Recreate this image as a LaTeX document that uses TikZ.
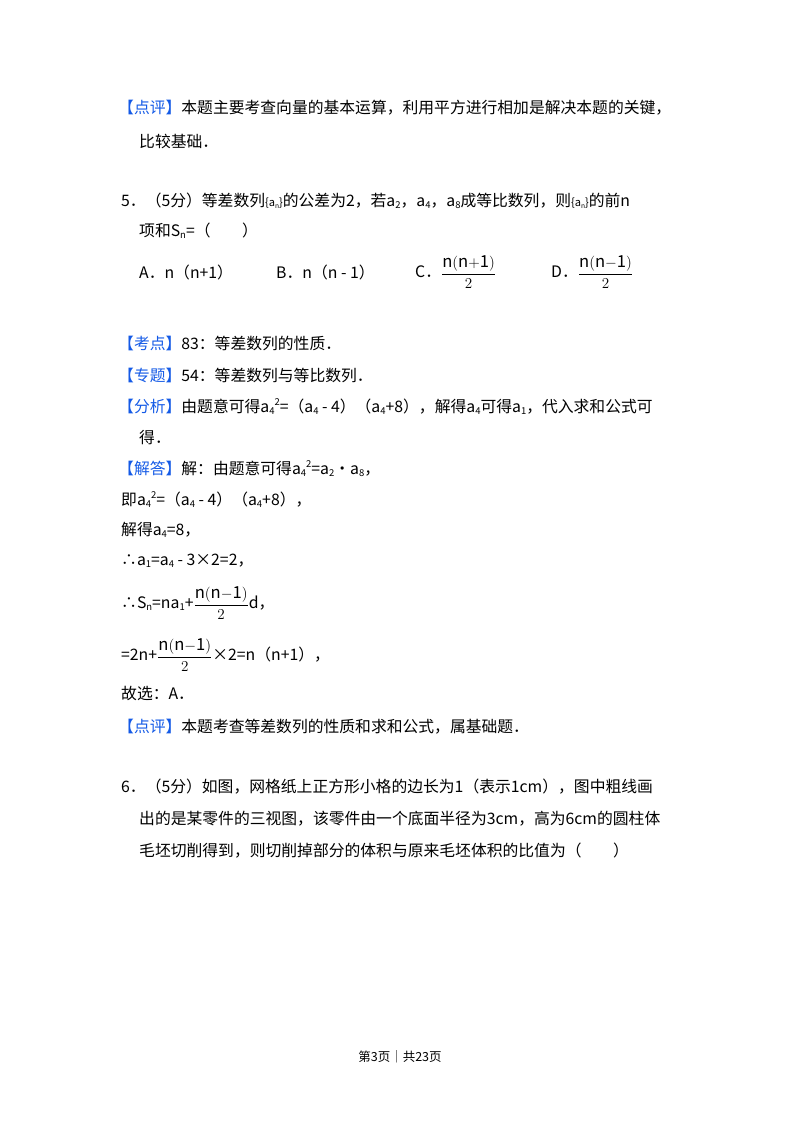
\documentclass[tikz,border=0pt]{standalone}
\usepackage{fontspec}
\usepackage{graphicx}
\setmainfont{Noto Sans CJK SC}
\definecolor{bl}{RGB}{20,90,230}
\newcommand{\sbx}[1]{\raisebox{-0.25ex}{\scalebox{0.6}{#1}}}
\newcommand{\spx}[1]{\raisebox{0.8ex}{\scalebox{0.6}{#1}}}
\newcommand{\seq}{\scalebox{0.7}{\{a\sbx{n}\}}}
\newcommand{\fr}[1]{\scalebox{1.05}{$\displaystyle\frac{\mathrm{n(n{#1}1)}}{2}$}}
\begin{document}
\begin{tikzpicture}[x=1pt,y=-1pt,every node/.style={anchor=west,inner sep=0pt,font=\fontsize{15.8}{17}\selectfont}]
\useasboundingbox (0,0) rectangle (800,1132);
\node (l1) at (118,108) {\textcolor{bl}{【点评】}本题主要考查向量的基本运算，利用平方进行相加是解决本题的关键，};
\node (l2) at (139,141) {比较基础．};
\node (q5) at (121,201) {5．（5分）等差数列\seq 的公差为2，若a\sbx{2}，a\sbx{4}，a\sbx{8}成等比数列，则\seq 的前n};
\node (q5b) at (139,231) {项和S\sbx{n}=（\qquad）};
\node (oa) at (139,272) {A．n（n+1）};
\node (ob) at (276,272) {B．n（n - 1）};
\node (oc) at (415,272) {C．\fr{+}};
\node (od) at (551,272) {D．\fr{-}};
\node (k) at (118,343) {\textcolor{bl}{【考点】}83：等差数列的性质．};
\node (z) at (118,375) {\textcolor{bl}{【专题】}54：等差数列与等比数列．};
\node (f) at (118,407) {\textcolor{bl}{【分析】}由题意可得a\sbx{4}\spx{2}=（a\sbx{4} - 4）（a\sbx{4}+8），解得a\sbx{4}可得a\sbx{1}，代入求和公式可};
\node (f2) at (139,438) {得．};
\node (j) at (118,469) {\textcolor{bl}{【解答】}解：由题意可得a\sbx{4}\spx{2}=a\sbx{2}•a\sbx{8}，};
\node (j1) at (121,500) {即a\sbx{4}\spx{2}=（a\sbx{4} - 4）（a\sbx{4}+8），};
\node (j2) at (121,530) {解得a\sbx{4}=8，};
\node (j3) at (121,561) {∴a\sbx{1}=a\sbx{4} - 3×2=2，};
\node (j4) at (121,603) {∴S\sbx{n}=na\sbx{1}+\fr{-}d，};
\node (j5) at (121,655) {=2n+\fr{-}×2=n（n+1），};
\node (g) at (121,693) {故选：A．};
\node (p) at (118,727) {\textcolor{bl}{【点评】}本题考查等差数列的性质和求和公式，属基础题．};
\node (q6) at (121,787) {6．（5分）如图，网格纸上正方形小格的边长为1（表示1cm），图中粗线画};
\node (q6b) at (139,819) {出的是某零件的三视图，该零件由一个底面半径为3cm，高为6cm的圆柱体};
\node (q6c) at (139,851) {毛坯切削得到，则切削掉部分的体积与原来毛坯体积的比值为（\qquad）};
\node[anchor=center,font=\fontsize{12.5}{14}\selectfont] (ft) at (400,1057) {第3页｜共23页};
\end{tikzpicture}
\end{document}
